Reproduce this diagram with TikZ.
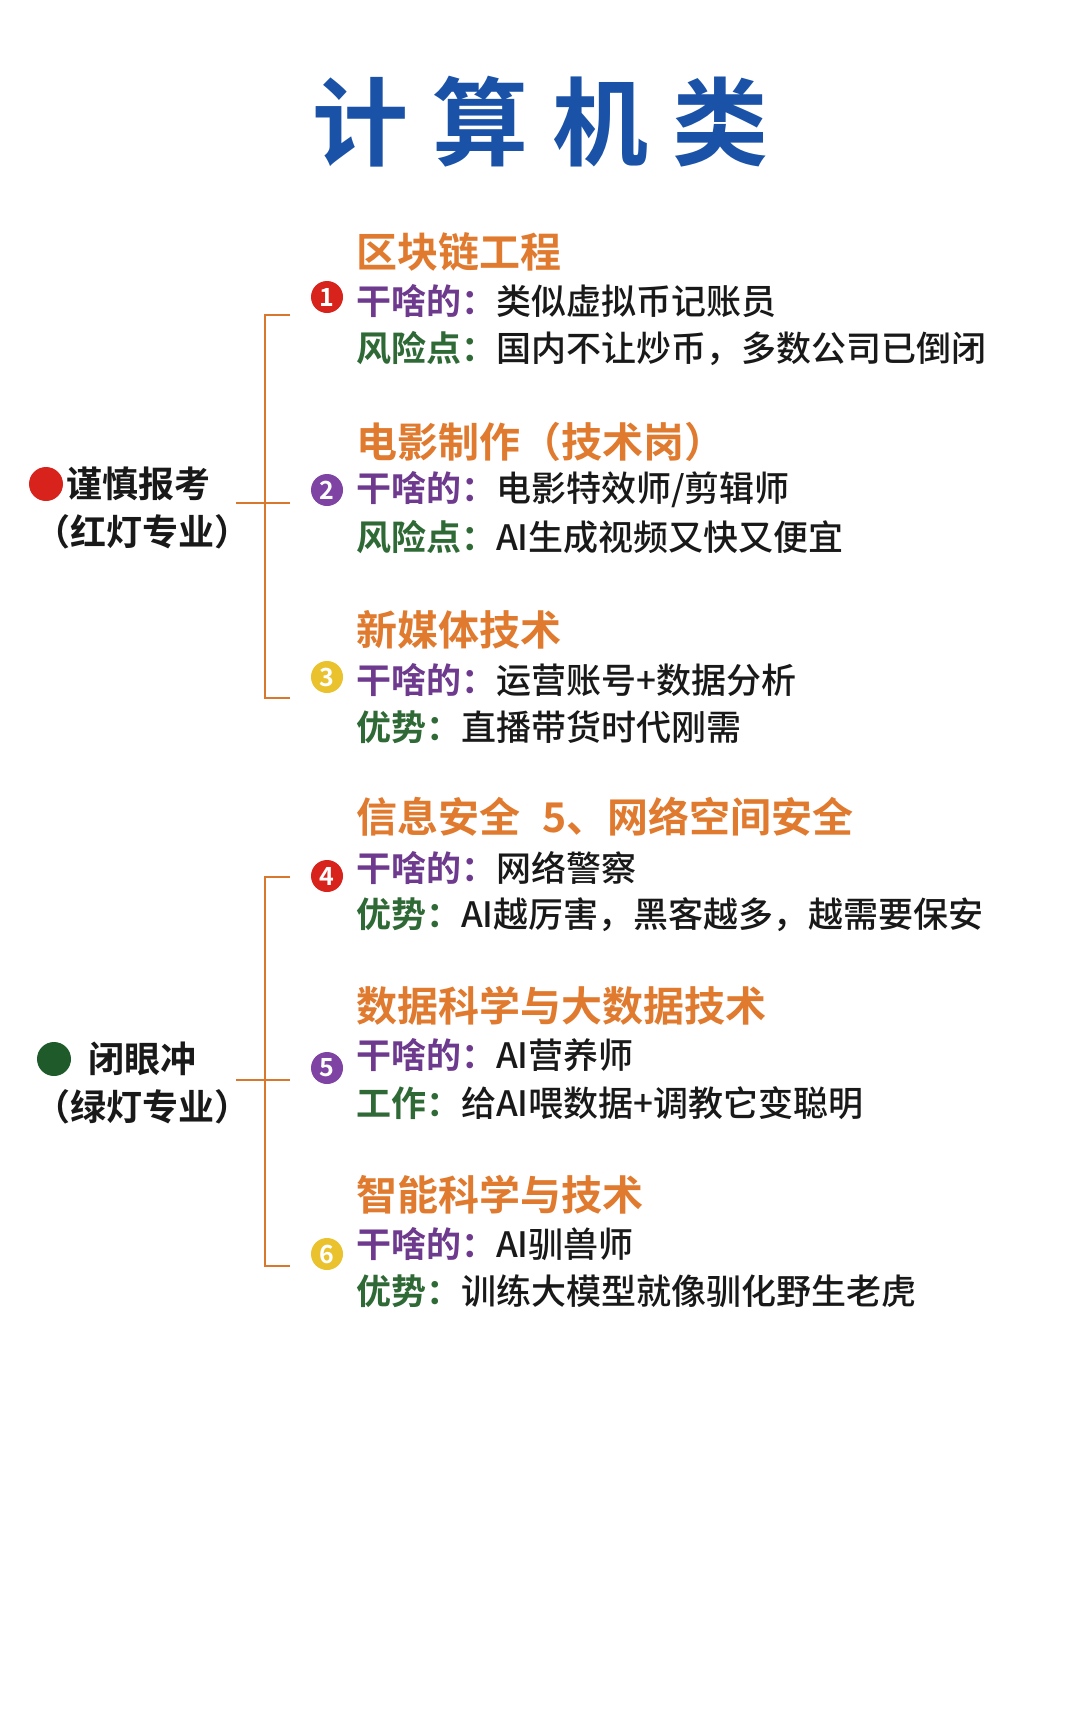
\documentclass[tikz,border=0pt]{standalone}
\usepackage{fontspec}
\setmainfont{Noto Sans CJK SC}
\newfontfamily\cjkb{Noto Sans CJK SC Bold}
\newfontfamily\cjkm{Noto Sans CJK SC Medium}
\definecolor{tblue}{HTML}{1A52A8}
\definecolor{horange}{HTML}{E07A2E}
\definecolor{lpurple}{HTML}{6E3A8E}
\definecolor{lgreen}{HTML}{2F6A36}
\definecolor{bro}{HTML}{D9782C}
\definecolor{cred}{HTML}{D8221C}
\definecolor{cpur}{HTML}{7E43A3}
\definecolor{cyel}{HTML}{E9C22E}
\definecolor{dgreen}{HTML}{1F5A2A}
\tikzset{
 head/.style={anchor=west,inner sep=0pt,font=\cjkb\fontsize{41}{41}\selectfont,text=horange},
 row/.style={anchor=west,inner sep=0pt,font=\cjkm\fontsize{35}{35}\selectfont,text=black!90},
 numc/.style={circle,fill=#1,inner sep=0pt,minimum size=32pt,text=white,font=\cjkb\fontsize{25}{25}\selectfont},
 brk/.style={draw=bro,line width=2.6pt},
 side/.style={anchor=west,inner sep=0pt,font=\cjkb\fontsize{36}{36}\selectfont,text=black!90}
}
\newcommand{\pl}[1]{{\cjkb\color{lpurple}#1}}
\newcommand{\gl}[1]{{\cjkb\color{lgreen}#1}}
\begin{document}
\begin{tikzpicture}[x=1pt,y=-1pt]
\fill[white] (0,0) rectangle (1080,1722);
\useasboundingbox (0,0) rectangle (1080,1722);
\node[inner sep=0pt,text=tblue,font=\cjkb\fontsize{96}{96}\selectfont] (title) at (540,122) {计\hspace{24pt}算\hspace{24pt}机\hspace{24pt}类};
% group 1
\node[head] (h1) at (356,252) {区块链工程};
\node[row] (r11) at (356,301) {\pl{干啥的：}类似虚拟币记账员};
\node[row] (r12) at (356,349) {\gl{风险点：}国内不让炒币，多数公司已倒闭};
\node[head] (h2) at (356,442) {电影制作（技术岗）};
\node[row] (r21) at (356,490) {\pl{干啥的：}电影特效师/剪辑师};
\node[row] (r22) at (356,537) {\gl{风险点：}AI生成视频又快又便宜};
\node[head] (h3) at (356,630) {新媒体技术};
\node[row] (r31) at (356,680) {\pl{干啥的：}运营账号+数据分析};
\node[row] (r32) at (356,727) {\gl{优势：}直播带货时代刚需};
\node[numc=cred] (n1) at (327,297) {1};
\node[numc=cpur] (n2) at (327,490) {2};
\node[numc=cyel] (n3) at (327,677) {3};
\draw[brk] (290,315) -- (265,315) -- (265,698) -- (290,698);
\draw[brk] (236,503) -- (290,503);
\fill[cred] (46,484) circle (17pt);
\node[side] (s1) at (66,484) {谨慎报考};
\node[side] (s1b) at (34,532) {（红灯专业）};
% group 2
\node[head] (h4) at (356,817) {信息安全\hspace{22pt}5、网络空间安全};
\node[row] (r41) at (356,868) {\pl{干啥的：}网络警察};
\node[row] (r42) at (356,915) {\gl{优势：}AI越厉害，黑客越多，越需要保安};
\node[head] (h5) at (356,1006) {数据科学与大数据技术};
\node[row] (r51) at (356,1055) {\pl{干啥的：}AI营养师};
\node[row] (r52) at (356,1103) {\gl{工作：}给AI喂数据+调教它变聪明};
\node[head] (h6) at (356,1195) {智能科学与技术};
\node[row] (r61) at (356,1244) {\pl{干啥的：}AI驯兽师};
\node[row] (r62) at (356,1291) {\gl{优势：}训练大模型就像驯化野生老虎};
\node[numc=cred] (n4) at (327,876) {4};
\node[numc=cpur] (n5) at (327,1068) {5};
\node[numc=cyel] (n6) at (327,1254) {6};
\draw[brk] (290,877) -- (265,877) -- (265,1266) -- (290,1266);
\draw[brk] (236,1080) -- (290,1080);
\fill[dgreen] (54,1059) circle (17pt);
\node[side] (s2) at (88,1059) {闭眼冲};
\node[side] (s2b) at (34,1107) {（绿灯专业）};
\end{tikzpicture}
\end{document}
